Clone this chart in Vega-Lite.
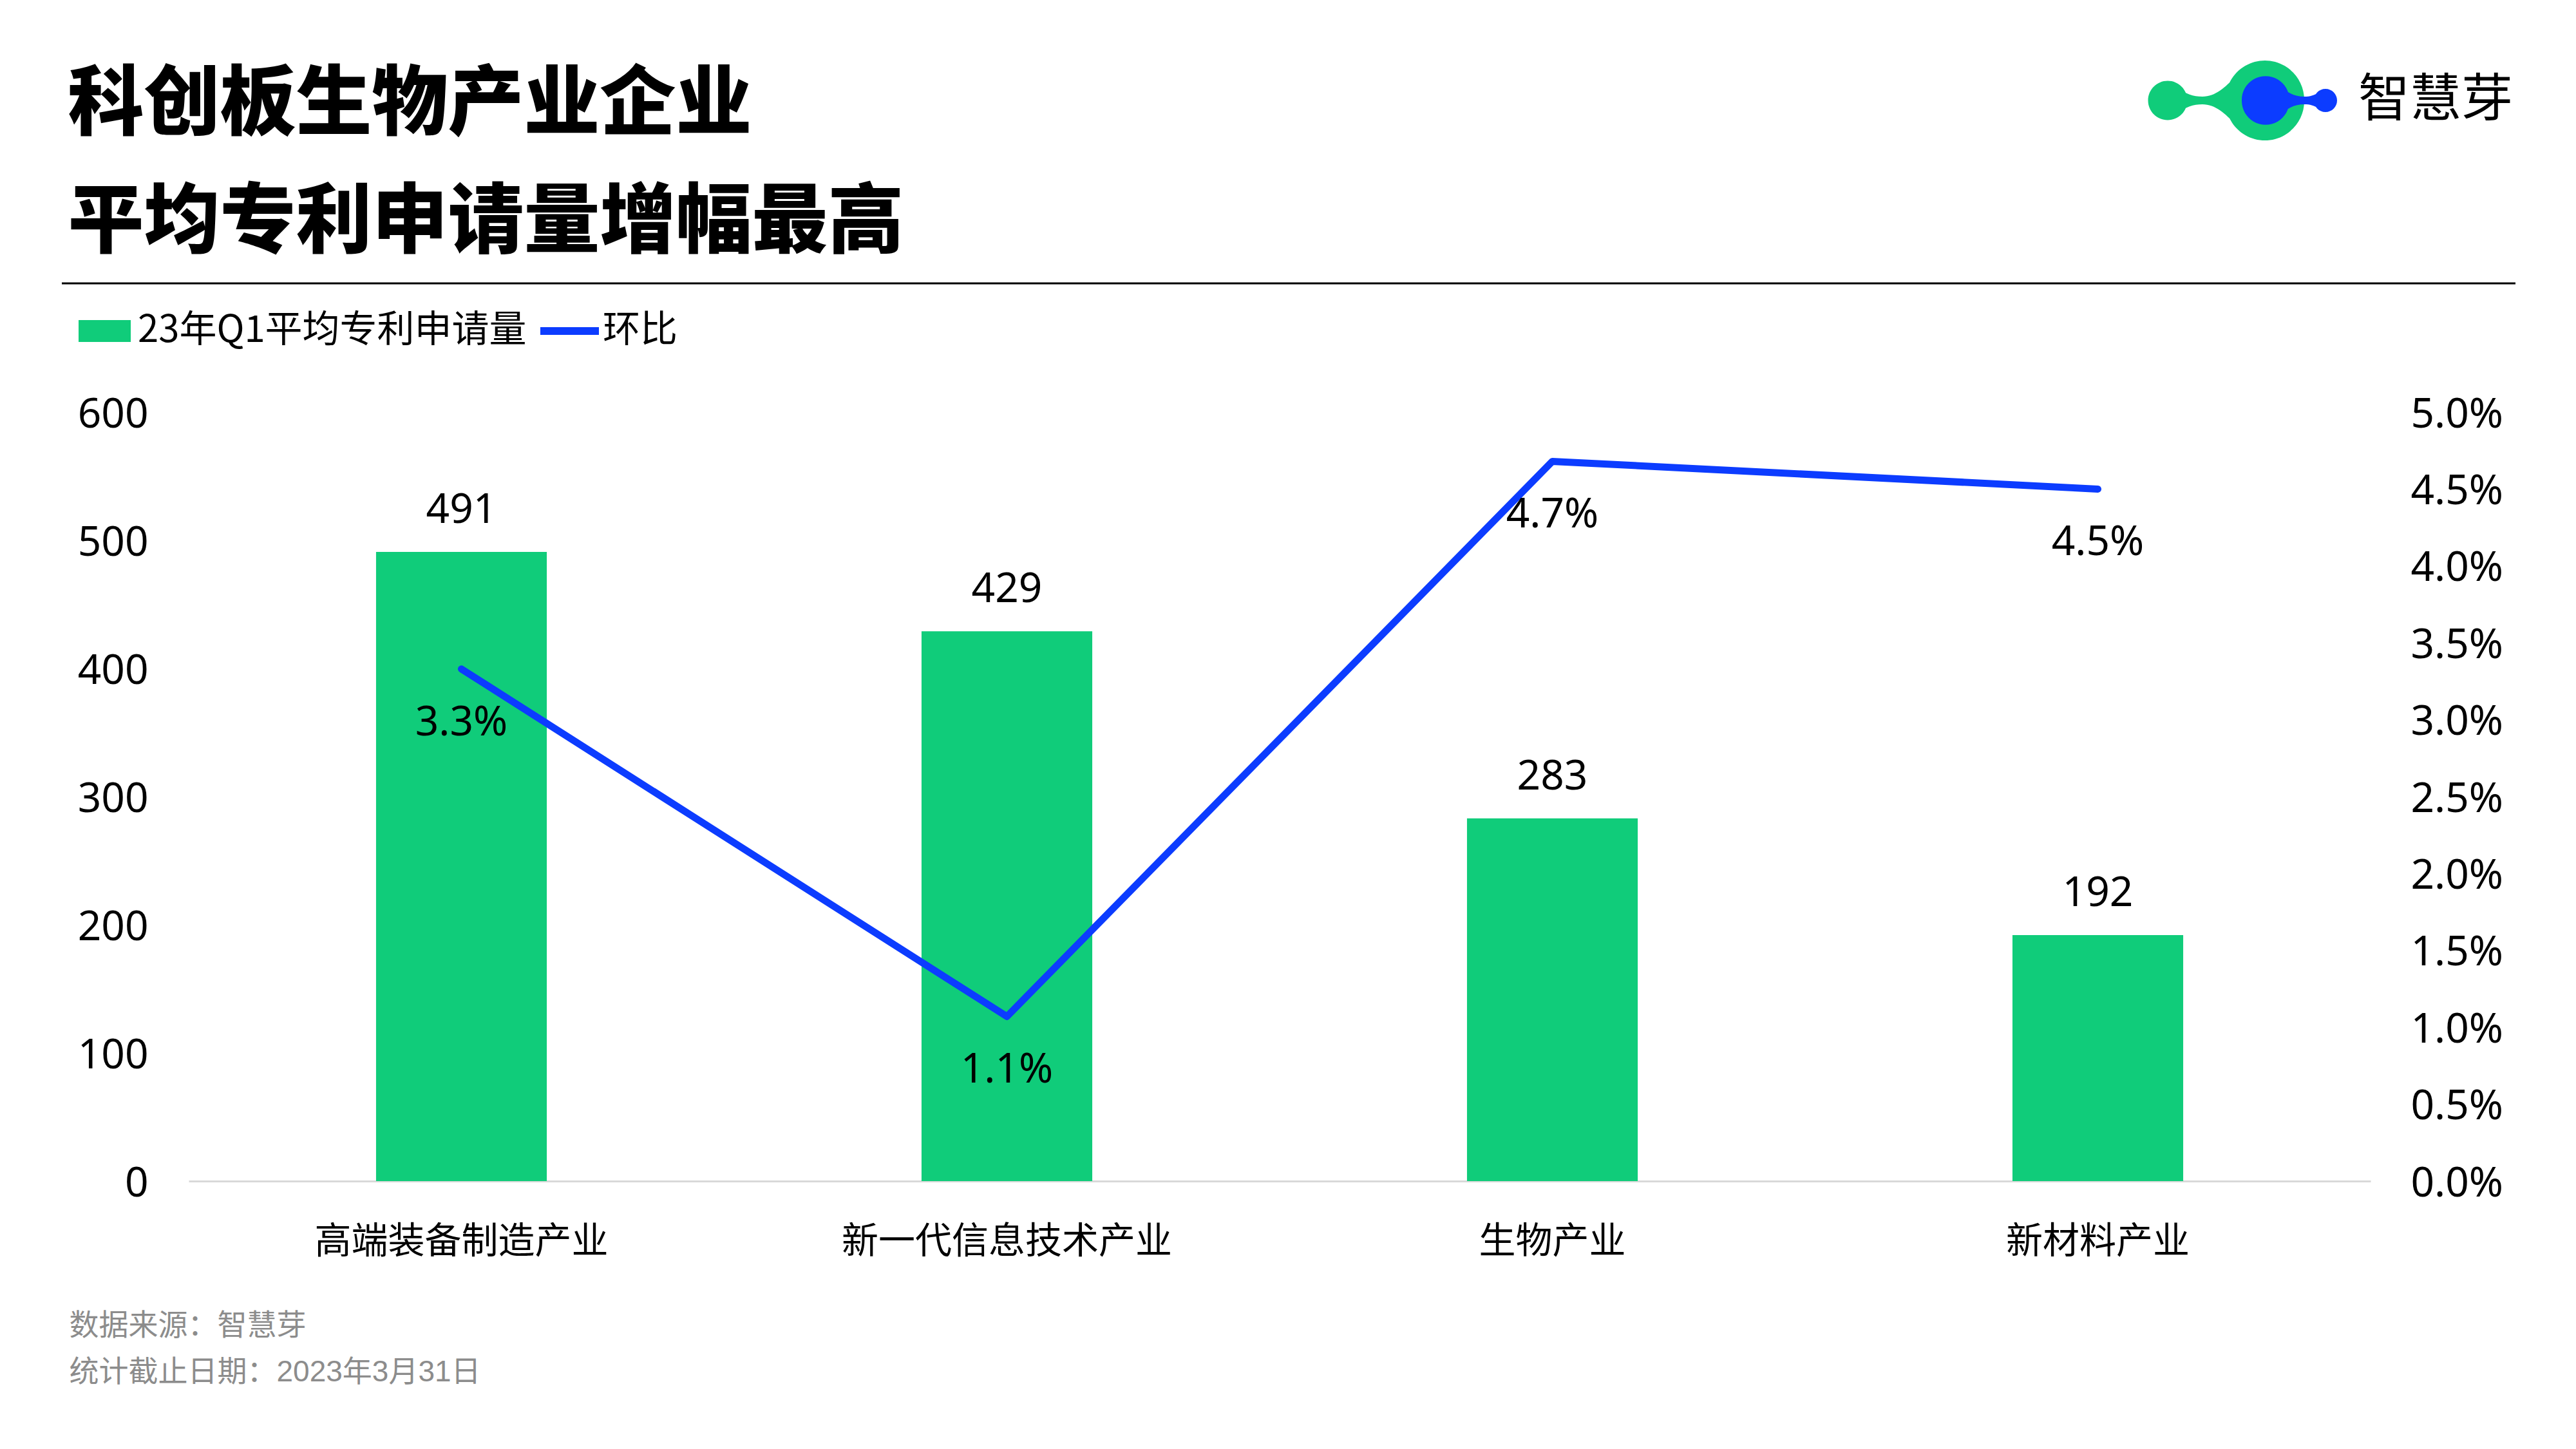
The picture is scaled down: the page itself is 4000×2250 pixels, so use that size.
{
  "$schema": "https://vega.github.io/schema/vega-lite/v6.json",
  "width": 3388,
  "height": 1194,
  "autosize": {"type": "none"},
  "padding": {"left": 293, "top": 640, "right": 319, "bottom": 416},
  "background": "white",
  "config": {"view": {"stroke": null}, "font": "Noto Sans CJK SC", "legend": {"labelLimit": 0}},
  "data": {
    "values": [
      {"industry": "高端装备制造产业", "apps": 491, "qoq": 0.0333},
      {"industry": "新一代信息技术产业", "apps": 429, "qoq": 0.0107},
      {"industry": "生物产业", "apps": 283, "qoq": 0.0468},
      {"industry": "新材料产业", "apps": 192, "qoq": 0.045}
    ]
  },
  "encoding": {
    "x": {
      "field": "industry",
      "type": "nominal",
      "sort": null,
      "scale": {"paddingInner": 0.687, "paddingOuter": 0.3435},
      "axis": {
        "title": ["数据来源：智慧芽", "统计截止日期：2023年3月31日"],
        "titleX": -186,
        "titleY": 238,
        "titleAlign": "left",
        "titleBaseline": "alphabetic",
        "titleFont": "Liberation Sans, Noto Sans CJK SC",
        "titleFontSize": 46,
        "titleFontWeight": "normal",
        "titleColor": "#8c8c8c",
        "titleLineHeight": 72,
        "labelAngle": 0,
        "labelLimit": 0,
        "labelFont": "Noto Sans CJK SC",
        "labelFontSize": 57,
        "labelColor": "#000000",
        "labelPadding": 66,
        "ticks": false,
        "domainColor": "#d9d9d9",
        "domainWidth": 3
      }
    }
  },
  "layer": [
    {
      "encoding": {
        "y": {
          "field": "apps",
          "type": "quantitative",
          "scale": {"domain": [0, 600]},
          "axis": {
            "title": ["科创板生物产业企业", "平均专利申请量增幅最高"],
            "titleX": -188,
            "titleY": -441,
            "titleAngle": 0,
            "titleAlign": "left",
            "titleBaseline": "alphabetic",
            "titleFont": "Noto Sans CJK SC",
            "titleFontSize": 118,
            "titleFontWeight": 900,
            "titleColor": "#000000",
            "titleLineHeight": 183,
            "titleLimit": 0,
            "values": [0, 100, 200, 300, 400, 500, 600],
            "ticks": false,
            "domain": false,
            "grid": false,
            "labelFont": "Noto Sans",
            "labelFontSize": 64,
            "labelColor": "#000000",
            "labelPadding": 63,
            "labelOffset": 4
          }
        }
      },
      "layer": [
        {
          "mark": {"type": "bar"},
          "encoding": {
            "fill": {
              "datum": "23年Q1平均专利申请量",
              "type": "nominal",
              "scale": {"range": ["#10cc7a"]},
              "legend": {
                "orient": "none",
                "legendX": -171,
                "legendY": -166.5,
                "title": null,
                "padding": 0,
                "symbolType": "M-1,-0.42H1V0.42H-1Z",
                "symbolSize": 6561,
                "symbolStrokeWidth": 0,
                "labelFont": "Noto Sans CJK SC",
                "labelFontSize": 58,
                "labelColor": "#000000",
                "labelOffset": 11
              }
            }
          }
        },
        {
          "mark": {"type": "text", "dy": -64, "fontSize": 64, "font": "Noto Sans", "baseline": "middle", "color": "#000000"},
          "encoding": {
            "text": {"field": "apps", "type": "quantitative"}
          }
        }
      ]
    },
    {
      "encoding": {
        "y": {
          "field": "qoq",
          "type": "quantitative",
          "scale": {"domain": [0, 0.05]},
          "axis": {
            "orient": "right",
            "title": null,
            "values": [0, 0.005, 0.01, 0.015, 0.02, 0.025, 0.03, 0.035, 0.04, 0.045, 0.05],
            "format": ".1%",
            "ticks": false,
            "domain": false,
            "grid": false,
            "labelFont": "Noto Sans",
            "labelFontSize": 64,
            "labelColor": "#000000",
            "labelPadding": 62,
            "labelOffset": 4
          }
        }
      },
      "layer": [
        {
          "mark": {"type": "line", "strokeWidth": 11, "strokeCap": "round", "strokeJoin": "round"},
          "encoding": {
            "stroke": {
              "datum": "环比",
              "type": "nominal",
              "scale": {"range": ["#0c3cff"]},
              "legend": {
                "orient": "none",
                "legendX": 540,
                "legendY": -177.5,
                "title": null,
                "padding": 0,
                "symbolType": "stroke",
                "symbolSize": 8281,
                "symbolStrokeWidth": 12,
                "labelFont": "Noto Sans CJK SC",
                "labelFontSize": 58,
                "labelColor": "#000000",
                "labelOffset": 0
              }
            }
          }
        },
        {
          "mark": {"type": "text", "dy": 84, "fontSize": 64, "font": "Noto Sans", "baseline": "middle", "color": "#000000"},
          "encoding": {
            "text": {"field": "qoq", "type": "quantitative", "format": ".1%"}
          }
        }
      ]
    },
    {
      "transform": [{"filter": "false"}],
      "mark": {"type": "line", "strokeWidth": 3},
      "encoding": {
        "stroke": {
          "datum": "rule",
          "type": "nominal",
          "scale": {"range": ["#000000"]},
          "legend": {
            "orient": "none",
            "legendX": -198.5,
            "legendY": -2106.5,
            "title": null,
            "padding": 0,
            "symbolType": "stroke",
            "symbolSize": 14516100,
            "symbolStrokeWidth": 3,
            "labelExpr": "''",
            "labelFontSize": 10
          }
        }
      }
    },
    {
      "transform": [{"filter": "false"}],
      "mark": {"type": "point", "filled": true, "opacity": 1},
      "encoding": {
        "fill": {
          "datum": "logo",
          "type": "nominal",
          "scale": {"range": ["#10cc7a"]},
          "legend": {
            "orient": "none",
            "legendX": 3037,
            "legendY": -634,
            "zindex": 1,
            "title": null,
            "padding": 0,
            "symbolType": "M-0.9633,0A0.2033,0.2033 0 1 1 -0.5567,0A0.2033,0.2033 0 1 1 -0.9633,0Z M-0.16,0A0.4067,0.4067 0 1 1 0.6533,0A0.4067,0.4067 0 1 1 -0.16,0Z M-0.6667,-0.1333C-0.5667,-0.0667 -0.5,-0.04 -0.4,-0.04C-0.2667,-0.04 -0.1667,-0.1333 -0.0533,-0.2533L-0.0533,0.2533C-0.1667,0.1333 -0.2667,0.04 -0.4,0.04C-0.5,0.04 -0.5667,0.0667 -0.6667,0.1333Z",
            "symbolSize": 90000,
            "symbolStrokeWidth": 0,
            "symbolOpacity": 1,
            "labelExpr": "''",
            "labelFontSize": 10
          }
        }
      }
    },
    {
      "transform": [{"filter": "false"}],
      "mark": {"type": "point", "filled": true, "opacity": 1},
      "encoding": {
        "fill": {
          "datum": "智慧芽",
          "type": "nominal",
          "scale": {"range": ["#0c3cff"]},
          "legend": {
            "orient": "none",
            "legendX": 3037,
            "legendY": -634,
            "zindex": 2,
            "title": null,
            "padding": 0,
            "symbolType": "M0.0067,0A0.2467,0.2467 0 1 1 0.5,0A0.2467,0.2467 0 1 1 0.0067,0Z M0.7533,0A0.12,0.12 0 1 1 0.9933,0A0.12,0.12 0 1 1 0.7533,0Z M0.4,-0.1467C0.5,-0.0667 0.5667,-0.04 0.6533,-0.04C0.72,-0.04 0.7467,-0.0533 0.8,-0.08L0.8,0.08C0.7467,0.0533 0.72,0.04 0.6533,0.04C0.5667,0.04 0.5,0.0667 0.4,0.1467Z",
            "symbolSize": 90000,
            "symbolStrokeWidth": 0,
            "symbolOpacity": 1,
            "labelFont": "Noto Sans CJK SC",
            "labelFontSize": 80,
            "labelColor": "#000000",
            "labelOffset": 32
          }
        }
      }
    }
  ],
  "resolve": {
    "scale": {"y": "independent", "fill": "independent", "stroke": "independent"},
    "legend": {"fill": "independent", "stroke": "independent"}
  }
}
